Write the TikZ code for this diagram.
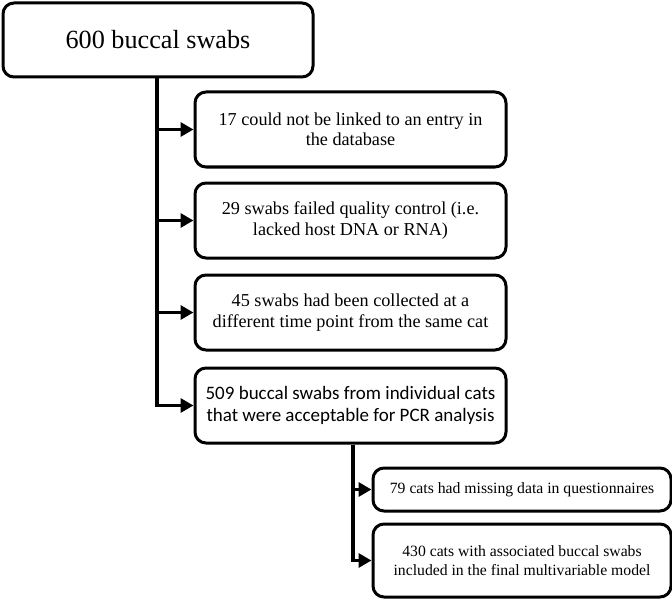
\documentclass[tikz,border=0pt]{standalone}
\usepackage{fontspec}
\setmainfont{Liberation Serif}
\newfontfamily\calib{Carlito}
\usetikzlibrary{arrows.meta}
\begin{document}
\begin{tikzpicture}[x=1pt,y=-1pt,
  box/.style={draw,line width=3pt,rounded corners=11pt,align=center,inner sep=0pt,
    font=\fontsize{18.2}{20.5}\selectfont},
  spine/.style={line width=3.5pt},
  arr/.style={line width=3.5pt,-{Triangle[length=13pt,width=14pt]}}]
\useasboundingbox (0,0) rectangle (672,599);
\node[box,minimum width=310pt,minimum height=74pt,font=\fontsize{26.2}{30}\selectfont] (top) at (158,40) {600 buccal swabs};
\node[box,minimum width=311pt,minimum height=75pt] (b1) at (350.5,129.5) {17 could not be linked to an entry in\\the database};
\node[box,minimum width=311pt,minimum height=75pt] (b2) at (350.5,220.5) {29 swabs failed quality control (i.e.\\lacked host DNA or RNA)};
\node[box,minimum width=311pt,minimum height=75pt] (b3) at (350.5,312.5) {45 swabs had been collected at a\\different time point from the same cat};
\node[box,minimum width=311pt,minimum height=75pt,font=\calib\fontsize{19}{22}\selectfont] (b4) at (350.5,405.5) {509 buccal swabs from individual cats\\that were acceptable for PCR analysis};
\node[box,minimum width=298pt,minimum height=43pt,font=\fontsize{15.7}{18.5}\selectfont] (b5) at (522,489.5) {79 cats had missing data in questionnaires};
\node[box,minimum width=298pt,minimum height=73pt,font=\fontsize{15.7}{19}\selectfont] (b6) at (522,560.5) {430 cats with associated buccal swabs\\included in the final multivariable model};
\coordinate (s1) at ([xshift=-1pt]top.south);
\coordinate (s2) at ([xshift=2.5pt]b4.south);
\draw[spine] (s1) -- (s1 |- b4.west);
\draw[arr] (s1 |- b1.west) -- (b1.west);
\draw[arr] (s1 |- b2.west) -- (b2.west);
\draw[arr] (s1 |- b3.west) -- (b3.west);
\draw[arr] ([yshift=-1.75pt]s1 |- b4.west) |- (b4.west);
\draw[spine] (s2) -- (s2 |- b6.west);
\draw[arr] (s2 |- b5.west) -- (b5.west);
\draw[arr] ([yshift=-1.75pt]s2 |- b6.west) |- (b6.west);
\end{tikzpicture}
\end{document}
